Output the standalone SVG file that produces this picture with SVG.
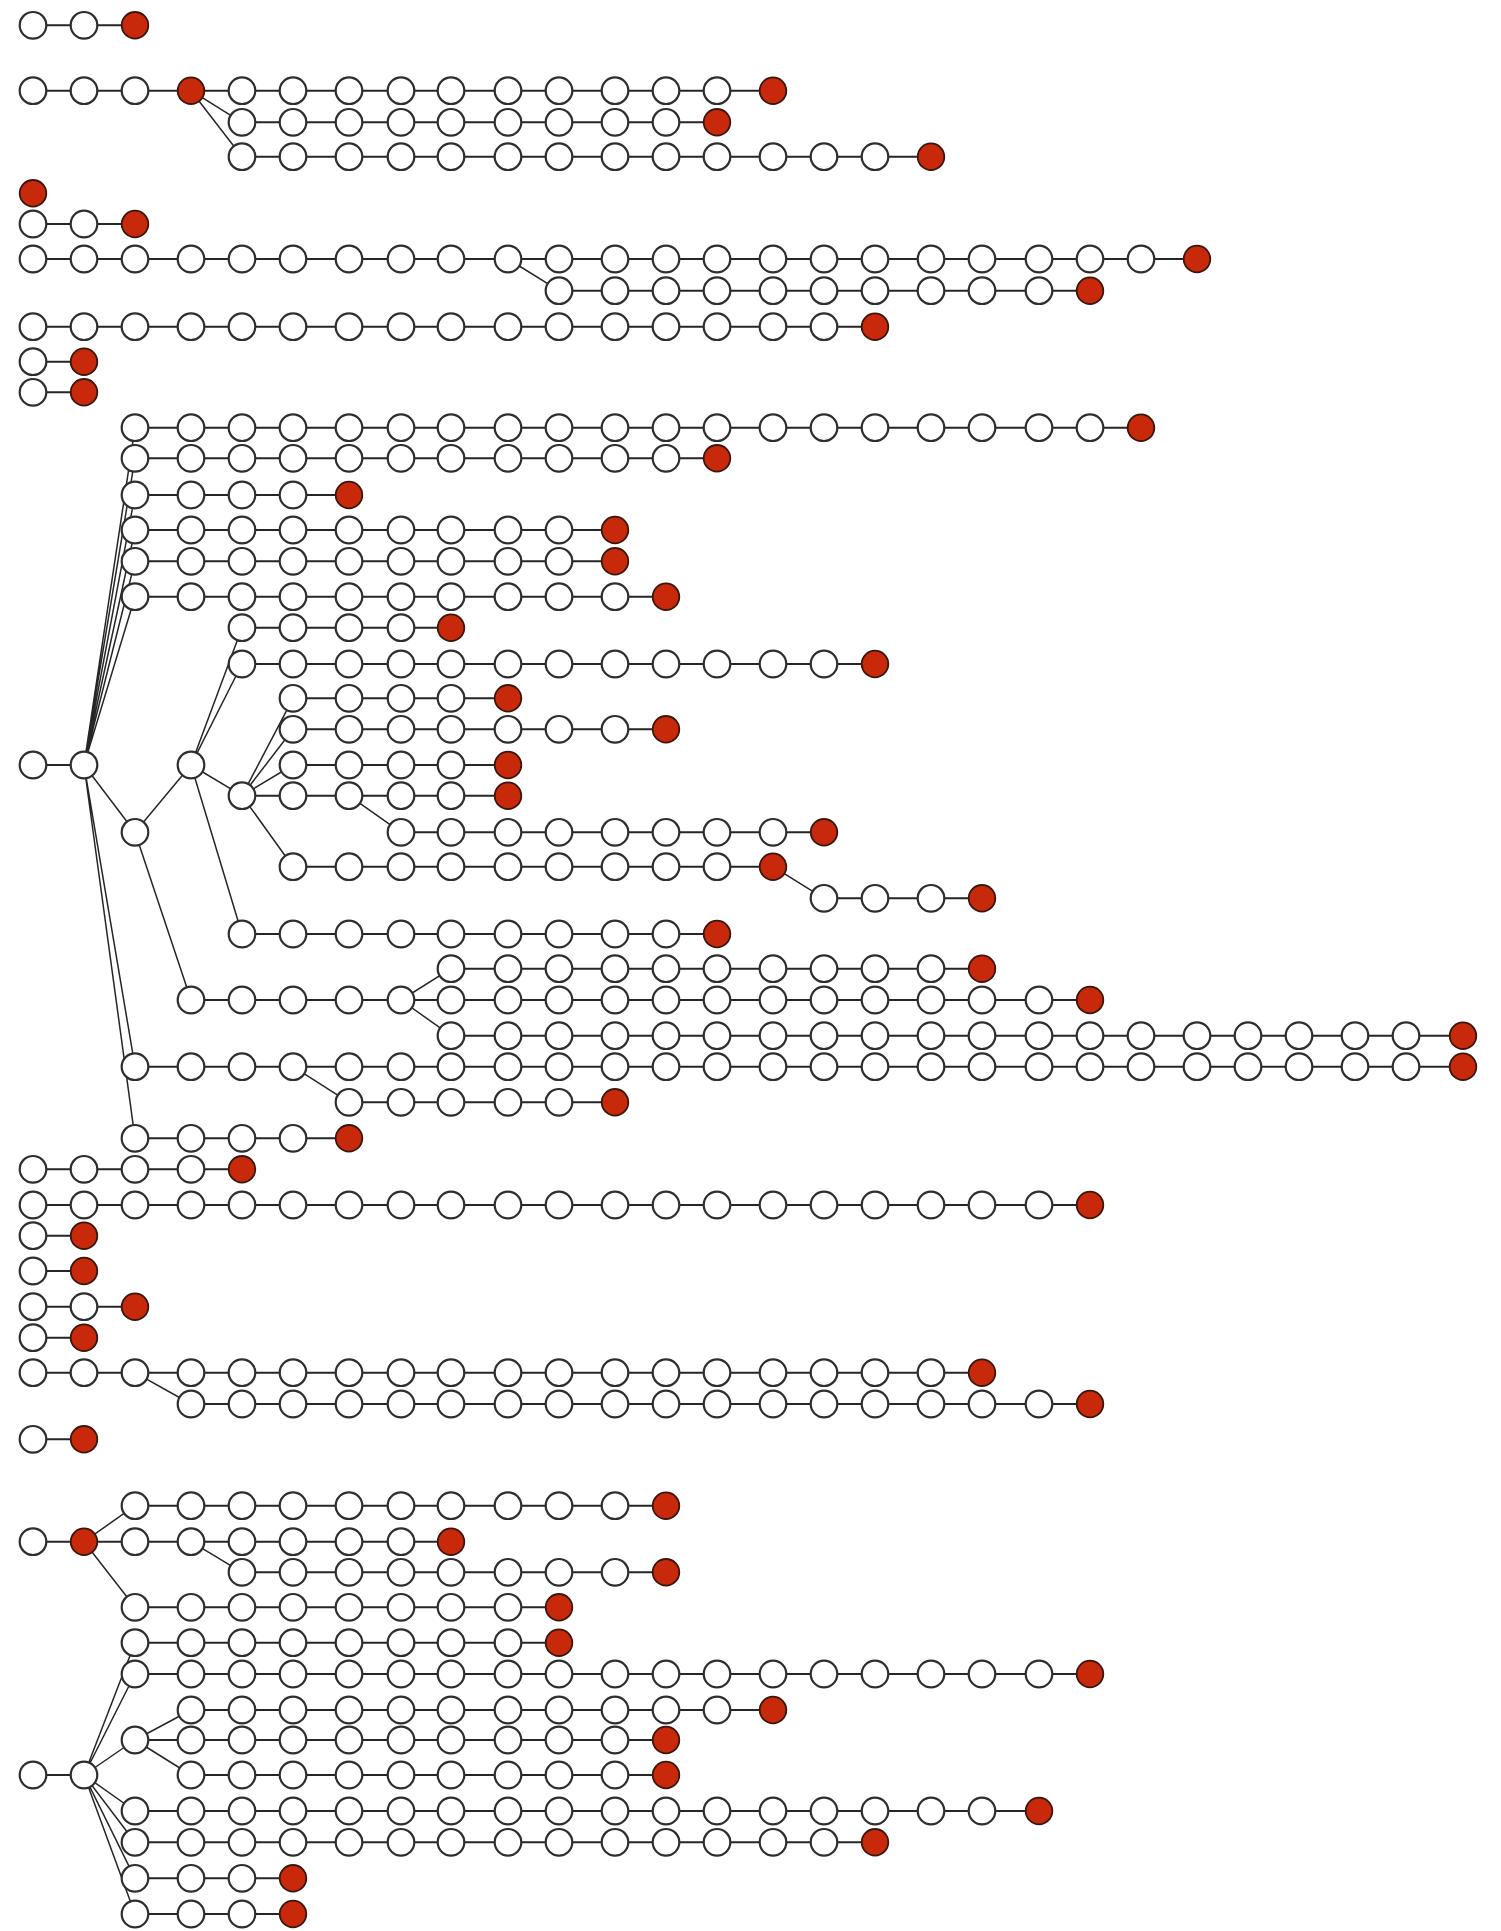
<svg xmlns="http://www.w3.org/2000/svg" width="1501" height="1931" viewBox="0 0 1501 1931">
<defs>
<circle id="w" r="13.3" fill="#ffffff" stroke="#2e2e2e" stroke-width="2.2"/>
<circle id="k" r="13.3" fill="#c8290b" stroke="#3a170d" stroke-width="1.8"/>
</defs>
<style>.e{fill:none;stroke:#262626;stroke-width:1.9}.d{fill:none;stroke:#262626;stroke-width:1.5}</style>
<rect width="1501" height="1931" fill="#ffffff"/>
<g id="edges">
<path class="e" d="M33 25.3H135M33 90.7H773M242 122.3H717M242 156.7H931M33 224H135M33 259H1197M559 290.7H1090M33 326.7H875M33 361.7H84M33 392.3H84M135 427.7H1141M135 458.3H717M135 495H349M135 530H615M135 561.3H615M135 596.7H666M242 627.7H451M242 664H875M293 698.3H508M293 729.3H666M33 765H84M293 765H508M242 795.7H508M401 832.3H824M293 866.7H773M824 898.3H982M242 934H717M451 968.7H982M191 1000H1090M451 1035.7H1463M135 1066.7H1463M349 1102.3H615M135 1138.3H349M33 1169.3H242M33 1205H1090M33 1235.7H84M33 1271H84M33 1306.7H135M33 1337.7H84M33 1372.7H982M191 1404H1090M33 1439.3H84M135 1505.7H666M33 1541.7H451M242 1572.3H666M135 1607.3H559M135 1642.7H559M135 1674H1090M191 1710H773M135 1740H666M33 1775H84M191 1775H666M135 1811H1039M135 1842.3H875M135 1878.3H293M135 1914H293"/>
<path class="d" d="M191 90.7L242 122.3M191 90.7L242 156.7M508 259L559 290.7M84 765L135 427.7M84 765L135 458.3M84 765L135 495M84 765L135 530M84 765L135 561.3M84 765L135 596.7M84 765L135 832.3M84 765L135 1066.7M84 765L135 1138.3M135 832.3L191 765M135 832.3L191 1000M191 765L242 627.7M191 765L242 664M191 765L242 795.7M191 765L242 934M242 795.7L293 698.3M242 795.7L293 729.3M242 795.7L293 765M242 795.7L293 866.7M349 795.7L401 832.3M773 866.7L824 898.3M401 1000L451 968.7M401 1000L451 1035.7M293 1066.7L349 1102.3M135 1372.7L191 1404M84 1541.7L135 1505.7M84 1541.7L135 1607.3M191 1541.7L242 1572.3M84 1775L135 1642.7M84 1775L135 1674M84 1775L135 1740M84 1775L135 1811M84 1775L135 1842.3M84 1775L135 1878.3M84 1775L135 1914M135 1740L191 1710M135 1740L191 1775"/>
</g>
<g id="nodes">
<g id="row1" transform="translate(0,25.3)">
<g id="n1-0"><use href="#w" x="33"/></g><g id="n1-1"><use href="#w" x="84"/></g><g id="n1-2"><use href="#k" x="135"/></g>
</g>
<g id="row2" transform="translate(0,90.7)">
<g id="n2-0"><use href="#w" x="33"/></g><g id="n2-1"><use href="#w" x="84"/></g><g id="n2-2"><use href="#w" x="135"/></g><g id="n2-3"><use href="#k" x="191"/></g><g id="n2-4"><use href="#w" x="242"/></g><g id="n2-5"><use href="#w" x="293"/></g><g id="n2-6"><use href="#w" x="349"/></g><g id="n2-7"><use href="#w" x="401"/></g><g id="n2-8"><use href="#w" x="451"/></g><g id="n2-9"><use href="#w" x="508"/></g><g id="n2-10"><use href="#w" x="559"/></g><g id="n2-11"><use href="#w" x="615"/></g><g id="n2-12"><use href="#w" x="666"/></g><g id="n2-13"><use href="#w" x="717"/></g><g id="n2-14"><use href="#k" x="773"/></g>
</g>
<g id="row3" transform="translate(0,122.3)">
<g id="n3-4"><use href="#w" x="242"/></g><g id="n3-5"><use href="#w" x="293"/></g><g id="n3-6"><use href="#w" x="349"/></g><g id="n3-7"><use href="#w" x="401"/></g><g id="n3-8"><use href="#w" x="451"/></g><g id="n3-9"><use href="#w" x="508"/></g><g id="n3-10"><use href="#w" x="559"/></g><g id="n3-11"><use href="#w" x="615"/></g><g id="n3-12"><use href="#w" x="666"/></g><g id="n3-13"><use href="#k" x="717"/></g>
</g>
<g id="row4" transform="translate(0,156.7)">
<g id="n4-4"><use href="#w" x="242"/></g><g id="n4-5"><use href="#w" x="293"/></g><g id="n4-6"><use href="#w" x="349"/></g><g id="n4-7"><use href="#w" x="401"/></g><g id="n4-8"><use href="#w" x="451"/></g><g id="n4-9"><use href="#w" x="508"/></g><g id="n4-10"><use href="#w" x="559"/></g><g id="n4-11"><use href="#w" x="615"/></g><g id="n4-12"><use href="#w" x="666"/></g><g id="n4-13"><use href="#w" x="717"/></g><g id="n4-14"><use href="#w" x="773"/></g><g id="n4-15"><use href="#w" x="824"/></g><g id="n4-16"><use href="#w" x="875"/></g><g id="n4-17"><use href="#k" x="931"/></g>
</g>
<g id="row5" transform="translate(0,193.3)">
<g id="n5-0"><use href="#k" x="33"/></g>
</g>
<g id="row6" transform="translate(0,224)">
<g id="n6-0"><use href="#w" x="33"/></g><g id="n6-1"><use href="#w" x="84"/></g><g id="n6-2"><use href="#k" x="135"/></g>
</g>
<g id="row7" transform="translate(0,259)">
<g id="n7-0"><use href="#w" x="33"/></g><g id="n7-1"><use href="#w" x="84"/></g><g id="n7-2"><use href="#w" x="135"/></g><g id="n7-3"><use href="#w" x="191"/></g><g id="n7-4"><use href="#w" x="242"/></g><g id="n7-5"><use href="#w" x="293"/></g><g id="n7-6"><use href="#w" x="349"/></g><g id="n7-7"><use href="#w" x="401"/></g><g id="n7-8"><use href="#w" x="451"/></g><g id="n7-9"><use href="#w" x="508"/></g><g id="n7-10"><use href="#w" x="559"/></g><g id="n7-11"><use href="#w" x="615"/></g><g id="n7-12"><use href="#w" x="666"/></g><g id="n7-13"><use href="#w" x="717"/></g><g id="n7-14"><use href="#w" x="773"/></g><g id="n7-15"><use href="#w" x="824"/></g><g id="n7-16"><use href="#w" x="875"/></g><g id="n7-17"><use href="#w" x="931"/></g><g id="n7-18"><use href="#w" x="982"/></g><g id="n7-19"><use href="#w" x="1039"/></g><g id="n7-20"><use href="#w" x="1090"/></g><g id="n7-21"><use href="#w" x="1141"/></g><g id="n7-22"><use href="#k" x="1197"/></g>
</g>
<g id="row8" transform="translate(0,290.7)">
<g id="n8-10"><use href="#w" x="559"/></g><g id="n8-11"><use href="#w" x="615"/></g><g id="n8-12"><use href="#w" x="666"/></g><g id="n8-13"><use href="#w" x="717"/></g><g id="n8-14"><use href="#w" x="773"/></g><g id="n8-15"><use href="#w" x="824"/></g><g id="n8-16"><use href="#w" x="875"/></g><g id="n8-17"><use href="#w" x="931"/></g><g id="n8-18"><use href="#w" x="982"/></g><g id="n8-19"><use href="#w" x="1039"/></g><g id="n8-20"><use href="#k" x="1090"/></g>
</g>
<g id="row9" transform="translate(0,326.7)">
<g id="n9-0"><use href="#w" x="33"/></g><g id="n9-1"><use href="#w" x="84"/></g><g id="n9-2"><use href="#w" x="135"/></g><g id="n9-3"><use href="#w" x="191"/></g><g id="n9-4"><use href="#w" x="242"/></g><g id="n9-5"><use href="#w" x="293"/></g><g id="n9-6"><use href="#w" x="349"/></g><g id="n9-7"><use href="#w" x="401"/></g><g id="n9-8"><use href="#w" x="451"/></g><g id="n9-9"><use href="#w" x="508"/></g><g id="n9-10"><use href="#w" x="559"/></g><g id="n9-11"><use href="#w" x="615"/></g><g id="n9-12"><use href="#w" x="666"/></g><g id="n9-13"><use href="#w" x="717"/></g><g id="n9-14"><use href="#w" x="773"/></g><g id="n9-15"><use href="#w" x="824"/></g><g id="n9-16"><use href="#k" x="875"/></g>
</g>
<g id="row10" transform="translate(0,361.7)">
<g id="n10-0"><use href="#w" x="33"/></g><g id="n10-1"><use href="#k" x="84"/></g>
</g>
<g id="row11" transform="translate(0,392.3)">
<g id="n11-0"><use href="#w" x="33"/></g><g id="n11-1"><use href="#k" x="84"/></g>
</g>
<g id="row12" transform="translate(0,427.7)">
<g id="n12-2"><use href="#w" x="135"/></g><g id="n12-3"><use href="#w" x="191"/></g><g id="n12-4"><use href="#w" x="242"/></g><g id="n12-5"><use href="#w" x="293"/></g><g id="n12-6"><use href="#w" x="349"/></g><g id="n12-7"><use href="#w" x="401"/></g><g id="n12-8"><use href="#w" x="451"/></g><g id="n12-9"><use href="#w" x="508"/></g><g id="n12-10"><use href="#w" x="559"/></g><g id="n12-11"><use href="#w" x="615"/></g><g id="n12-12"><use href="#w" x="666"/></g><g id="n12-13"><use href="#w" x="717"/></g><g id="n12-14"><use href="#w" x="773"/></g><g id="n12-15"><use href="#w" x="824"/></g><g id="n12-16"><use href="#w" x="875"/></g><g id="n12-17"><use href="#w" x="931"/></g><g id="n12-18"><use href="#w" x="982"/></g><g id="n12-19"><use href="#w" x="1039"/></g><g id="n12-20"><use href="#w" x="1090"/></g><g id="n12-21"><use href="#k" x="1141"/></g>
</g>
<g id="row13" transform="translate(0,458.3)">
<g id="n13-2"><use href="#w" x="135"/></g><g id="n13-3"><use href="#w" x="191"/></g><g id="n13-4"><use href="#w" x="242"/></g><g id="n13-5"><use href="#w" x="293"/></g><g id="n13-6"><use href="#w" x="349"/></g><g id="n13-7"><use href="#w" x="401"/></g><g id="n13-8"><use href="#w" x="451"/></g><g id="n13-9"><use href="#w" x="508"/></g><g id="n13-10"><use href="#w" x="559"/></g><g id="n13-11"><use href="#w" x="615"/></g><g id="n13-12"><use href="#w" x="666"/></g><g id="n13-13"><use href="#k" x="717"/></g>
</g>
<g id="row14" transform="translate(0,495)">
<g id="n14-2"><use href="#w" x="135"/></g><g id="n14-3"><use href="#w" x="191"/></g><g id="n14-4"><use href="#w" x="242"/></g><g id="n14-5"><use href="#w" x="293"/></g><g id="n14-6"><use href="#k" x="349"/></g>
</g>
<g id="row15" transform="translate(0,530)">
<g id="n15-2"><use href="#w" x="135"/></g><g id="n15-3"><use href="#w" x="191"/></g><g id="n15-4"><use href="#w" x="242"/></g><g id="n15-5"><use href="#w" x="293"/></g><g id="n15-6"><use href="#w" x="349"/></g><g id="n15-7"><use href="#w" x="401"/></g><g id="n15-8"><use href="#w" x="451"/></g><g id="n15-9"><use href="#w" x="508"/></g><g id="n15-10"><use href="#w" x="559"/></g><g id="n15-11"><use href="#k" x="615"/></g>
</g>
<g id="row16" transform="translate(0,561.3)">
<g id="n16-2"><use href="#w" x="135"/></g><g id="n16-3"><use href="#w" x="191"/></g><g id="n16-4"><use href="#w" x="242"/></g><g id="n16-5"><use href="#w" x="293"/></g><g id="n16-6"><use href="#w" x="349"/></g><g id="n16-7"><use href="#w" x="401"/></g><g id="n16-8"><use href="#w" x="451"/></g><g id="n16-9"><use href="#w" x="508"/></g><g id="n16-10"><use href="#w" x="559"/></g><g id="n16-11"><use href="#k" x="615"/></g>
</g>
<g id="row17" transform="translate(0,596.7)">
<g id="n17-2"><use href="#w" x="135"/></g><g id="n17-3"><use href="#w" x="191"/></g><g id="n17-4"><use href="#w" x="242"/></g><g id="n17-5"><use href="#w" x="293"/></g><g id="n17-6"><use href="#w" x="349"/></g><g id="n17-7"><use href="#w" x="401"/></g><g id="n17-8"><use href="#w" x="451"/></g><g id="n17-9"><use href="#w" x="508"/></g><g id="n17-10"><use href="#w" x="559"/></g><g id="n17-11"><use href="#w" x="615"/></g><g id="n17-12"><use href="#k" x="666"/></g>
</g>
<g id="row18" transform="translate(0,627.7)">
<g id="n18-4"><use href="#w" x="242"/></g><g id="n18-5"><use href="#w" x="293"/></g><g id="n18-6"><use href="#w" x="349"/></g><g id="n18-7"><use href="#w" x="401"/></g><g id="n18-8"><use href="#k" x="451"/></g>
</g>
<g id="row19" transform="translate(0,664)">
<g id="n19-4"><use href="#w" x="242"/></g><g id="n19-5"><use href="#w" x="293"/></g><g id="n19-6"><use href="#w" x="349"/></g><g id="n19-7"><use href="#w" x="401"/></g><g id="n19-8"><use href="#w" x="451"/></g><g id="n19-9"><use href="#w" x="508"/></g><g id="n19-10"><use href="#w" x="559"/></g><g id="n19-11"><use href="#w" x="615"/></g><g id="n19-12"><use href="#w" x="666"/></g><g id="n19-13"><use href="#w" x="717"/></g><g id="n19-14"><use href="#w" x="773"/></g><g id="n19-15"><use href="#w" x="824"/></g><g id="n19-16"><use href="#k" x="875"/></g>
</g>
<g id="row20" transform="translate(0,698.3)">
<g id="n20-5"><use href="#w" x="293"/></g><g id="n20-6"><use href="#w" x="349"/></g><g id="n20-7"><use href="#w" x="401"/></g><g id="n20-8"><use href="#w" x="451"/></g><g id="n20-9"><use href="#k" x="508"/></g>
</g>
<g id="row21" transform="translate(0,729.3)">
<g id="n21-5"><use href="#w" x="293"/></g><g id="n21-6"><use href="#w" x="349"/></g><g id="n21-7"><use href="#w" x="401"/></g><g id="n21-8"><use href="#w" x="451"/></g><g id="n21-9"><use href="#w" x="508"/></g><g id="n21-10"><use href="#w" x="559"/></g><g id="n21-11"><use href="#w" x="615"/></g><g id="n21-12"><use href="#k" x="666"/></g>
</g>
<g id="row22" transform="translate(0,765)">
<g id="n22-0"><use href="#w" x="33"/></g><g id="n22-1"><use href="#w" x="84"/></g><g id="n22-3"><use href="#w" x="191"/></g><g id="n22-5"><use href="#w" x="293"/></g><g id="n22-6"><use href="#w" x="349"/></g><g id="n22-7"><use href="#w" x="401"/></g><g id="n22-8"><use href="#w" x="451"/></g><g id="n22-9"><use href="#k" x="508"/></g>
</g>
<g id="row23" transform="translate(0,795.7)">
<g id="n23-4"><use href="#w" x="242"/></g><g id="n23-5"><use href="#w" x="293"/></g><g id="n23-6"><use href="#w" x="349"/></g><g id="n23-7"><use href="#w" x="401"/></g><g id="n23-8"><use href="#w" x="451"/></g><g id="n23-9"><use href="#k" x="508"/></g>
</g>
<g id="row24" transform="translate(0,832.3)">
<g id="n24-2"><use href="#w" x="135"/></g><g id="n24-7"><use href="#w" x="401"/></g><g id="n24-8"><use href="#w" x="451"/></g><g id="n24-9"><use href="#w" x="508"/></g><g id="n24-10"><use href="#w" x="559"/></g><g id="n24-11"><use href="#w" x="615"/></g><g id="n24-12"><use href="#w" x="666"/></g><g id="n24-13"><use href="#w" x="717"/></g><g id="n24-14"><use href="#w" x="773"/></g><g id="n24-15"><use href="#k" x="824"/></g>
</g>
<g id="row25" transform="translate(0,866.7)">
<g id="n25-5"><use href="#w" x="293"/></g><g id="n25-6"><use href="#w" x="349"/></g><g id="n25-7"><use href="#w" x="401"/></g><g id="n25-8"><use href="#w" x="451"/></g><g id="n25-9"><use href="#w" x="508"/></g><g id="n25-10"><use href="#w" x="559"/></g><g id="n25-11"><use href="#w" x="615"/></g><g id="n25-12"><use href="#w" x="666"/></g><g id="n25-13"><use href="#w" x="717"/></g><g id="n25-14"><use href="#k" x="773"/></g>
</g>
<g id="row26" transform="translate(0,898.3)">
<g id="n26-15"><use href="#w" x="824"/></g><g id="n26-16"><use href="#w" x="875"/></g><g id="n26-17"><use href="#w" x="931"/></g><g id="n26-18"><use href="#k" x="982"/></g>
</g>
<g id="row27" transform="translate(0,934)">
<g id="n27-4"><use href="#w" x="242"/></g><g id="n27-5"><use href="#w" x="293"/></g><g id="n27-6"><use href="#w" x="349"/></g><g id="n27-7"><use href="#w" x="401"/></g><g id="n27-8"><use href="#w" x="451"/></g><g id="n27-9"><use href="#w" x="508"/></g><g id="n27-10"><use href="#w" x="559"/></g><g id="n27-11"><use href="#w" x="615"/></g><g id="n27-12"><use href="#w" x="666"/></g><g id="n27-13"><use href="#k" x="717"/></g>
</g>
<g id="row28" transform="translate(0,968.7)">
<g id="n28-8"><use href="#w" x="451"/></g><g id="n28-9"><use href="#w" x="508"/></g><g id="n28-10"><use href="#w" x="559"/></g><g id="n28-11"><use href="#w" x="615"/></g><g id="n28-12"><use href="#w" x="666"/></g><g id="n28-13"><use href="#w" x="717"/></g><g id="n28-14"><use href="#w" x="773"/></g><g id="n28-15"><use href="#w" x="824"/></g><g id="n28-16"><use href="#w" x="875"/></g><g id="n28-17"><use href="#w" x="931"/></g><g id="n28-18"><use href="#k" x="982"/></g>
</g>
<g id="row29" transform="translate(0,1000)">
<g id="n29-3"><use href="#w" x="191"/></g><g id="n29-4"><use href="#w" x="242"/></g><g id="n29-5"><use href="#w" x="293"/></g><g id="n29-6"><use href="#w" x="349"/></g><g id="n29-7"><use href="#w" x="401"/></g><g id="n29-8"><use href="#w" x="451"/></g><g id="n29-9"><use href="#w" x="508"/></g><g id="n29-10"><use href="#w" x="559"/></g><g id="n29-11"><use href="#w" x="615"/></g><g id="n29-12"><use href="#w" x="666"/></g><g id="n29-13"><use href="#w" x="717"/></g><g id="n29-14"><use href="#w" x="773"/></g><g id="n29-15"><use href="#w" x="824"/></g><g id="n29-16"><use href="#w" x="875"/></g><g id="n29-17"><use href="#w" x="931"/></g><g id="n29-18"><use href="#w" x="982"/></g><g id="n29-19"><use href="#w" x="1039"/></g><g id="n29-20"><use href="#k" x="1090"/></g>
</g>
<g id="row30" transform="translate(0,1035.7)">
<g id="n30-8"><use href="#w" x="451"/></g><g id="n30-9"><use href="#w" x="508"/></g><g id="n30-10"><use href="#w" x="559"/></g><g id="n30-11"><use href="#w" x="615"/></g><g id="n30-12"><use href="#w" x="666"/></g><g id="n30-13"><use href="#w" x="717"/></g><g id="n30-14"><use href="#w" x="773"/></g><g id="n30-15"><use href="#w" x="824"/></g><g id="n30-16"><use href="#w" x="875"/></g><g id="n30-17"><use href="#w" x="931"/></g><g id="n30-18"><use href="#w" x="982"/></g><g id="n30-19"><use href="#w" x="1039"/></g><g id="n30-20"><use href="#w" x="1090"/></g><g id="n30-21"><use href="#w" x="1141"/></g><g id="n30-22"><use href="#w" x="1197"/></g><g id="n30-23"><use href="#w" x="1248"/></g><g id="n30-24"><use href="#w" x="1299"/></g><g id="n30-25"><use href="#w" x="1355"/></g><g id="n30-26"><use href="#w" x="1406"/></g><g id="n30-27"><use href="#k" x="1463"/></g>
</g>
<g id="row31" transform="translate(0,1066.7)">
<g id="n31-2"><use href="#w" x="135"/></g><g id="n31-3"><use href="#w" x="191"/></g><g id="n31-4"><use href="#w" x="242"/></g><g id="n31-5"><use href="#w" x="293"/></g><g id="n31-6"><use href="#w" x="349"/></g><g id="n31-7"><use href="#w" x="401"/></g><g id="n31-8"><use href="#w" x="451"/></g><g id="n31-9"><use href="#w" x="508"/></g><g id="n31-10"><use href="#w" x="559"/></g><g id="n31-11"><use href="#w" x="615"/></g><g id="n31-12"><use href="#w" x="666"/></g><g id="n31-13"><use href="#w" x="717"/></g><g id="n31-14"><use href="#w" x="773"/></g><g id="n31-15"><use href="#w" x="824"/></g><g id="n31-16"><use href="#w" x="875"/></g><g id="n31-17"><use href="#w" x="931"/></g><g id="n31-18"><use href="#w" x="982"/></g><g id="n31-19"><use href="#w" x="1039"/></g><g id="n31-20"><use href="#w" x="1090"/></g><g id="n31-21"><use href="#w" x="1141"/></g><g id="n31-22"><use href="#w" x="1197"/></g><g id="n31-23"><use href="#w" x="1248"/></g><g id="n31-24"><use href="#w" x="1299"/></g><g id="n31-25"><use href="#w" x="1355"/></g><g id="n31-26"><use href="#w" x="1406"/></g><g id="n31-27"><use href="#k" x="1463"/></g>
</g>
<g id="row32" transform="translate(0,1102.3)">
<g id="n32-6"><use href="#w" x="349"/></g><g id="n32-7"><use href="#w" x="401"/></g><g id="n32-8"><use href="#w" x="451"/></g><g id="n32-9"><use href="#w" x="508"/></g><g id="n32-10"><use href="#w" x="559"/></g><g id="n32-11"><use href="#k" x="615"/></g>
</g>
<g id="row33" transform="translate(0,1138.3)">
<g id="n33-2"><use href="#w" x="135"/></g><g id="n33-3"><use href="#w" x="191"/></g><g id="n33-4"><use href="#w" x="242"/></g><g id="n33-5"><use href="#w" x="293"/></g><g id="n33-6"><use href="#k" x="349"/></g>
</g>
<g id="row34" transform="translate(0,1169.3)">
<g id="n34-0"><use href="#w" x="33"/></g><g id="n34-1"><use href="#w" x="84"/></g><g id="n34-2"><use href="#w" x="135"/></g><g id="n34-3"><use href="#w" x="191"/></g><g id="n34-4"><use href="#k" x="242"/></g>
</g>
<g id="row35" transform="translate(0,1205)">
<g id="n35-0"><use href="#w" x="33"/></g><g id="n35-1"><use href="#w" x="84"/></g><g id="n35-2"><use href="#w" x="135"/></g><g id="n35-3"><use href="#w" x="191"/></g><g id="n35-4"><use href="#w" x="242"/></g><g id="n35-5"><use href="#w" x="293"/></g><g id="n35-6"><use href="#w" x="349"/></g><g id="n35-7"><use href="#w" x="401"/></g><g id="n35-8"><use href="#w" x="451"/></g><g id="n35-9"><use href="#w" x="508"/></g><g id="n35-10"><use href="#w" x="559"/></g><g id="n35-11"><use href="#w" x="615"/></g><g id="n35-12"><use href="#w" x="666"/></g><g id="n35-13"><use href="#w" x="717"/></g><g id="n35-14"><use href="#w" x="773"/></g><g id="n35-15"><use href="#w" x="824"/></g><g id="n35-16"><use href="#w" x="875"/></g><g id="n35-17"><use href="#w" x="931"/></g><g id="n35-18"><use href="#w" x="982"/></g><g id="n35-19"><use href="#w" x="1039"/></g><g id="n35-20"><use href="#k" x="1090"/></g>
</g>
<g id="row36" transform="translate(0,1235.7)">
<g id="n36-0"><use href="#w" x="33"/></g><g id="n36-1"><use href="#k" x="84"/></g>
</g>
<g id="row37" transform="translate(0,1271)">
<g id="n37-0"><use href="#w" x="33"/></g><g id="n37-1"><use href="#k" x="84"/></g>
</g>
<g id="row38" transform="translate(0,1306.7)">
<g id="n38-0"><use href="#w" x="33"/></g><g id="n38-1"><use href="#w" x="84"/></g><g id="n38-2"><use href="#k" x="135"/></g>
</g>
<g id="row39" transform="translate(0,1337.7)">
<g id="n39-0"><use href="#w" x="33"/></g><g id="n39-1"><use href="#k" x="84"/></g>
</g>
<g id="row40" transform="translate(0,1372.7)">
<g id="n40-0"><use href="#w" x="33"/></g><g id="n40-1"><use href="#w" x="84"/></g><g id="n40-2"><use href="#w" x="135"/></g><g id="n40-3"><use href="#w" x="191"/></g><g id="n40-4"><use href="#w" x="242"/></g><g id="n40-5"><use href="#w" x="293"/></g><g id="n40-6"><use href="#w" x="349"/></g><g id="n40-7"><use href="#w" x="401"/></g><g id="n40-8"><use href="#w" x="451"/></g><g id="n40-9"><use href="#w" x="508"/></g><g id="n40-10"><use href="#w" x="559"/></g><g id="n40-11"><use href="#w" x="615"/></g><g id="n40-12"><use href="#w" x="666"/></g><g id="n40-13"><use href="#w" x="717"/></g><g id="n40-14"><use href="#w" x="773"/></g><g id="n40-15"><use href="#w" x="824"/></g><g id="n40-16"><use href="#w" x="875"/></g><g id="n40-17"><use href="#w" x="931"/></g><g id="n40-18"><use href="#k" x="982"/></g>
</g>
<g id="row41" transform="translate(0,1404)">
<g id="n41-3"><use href="#w" x="191"/></g><g id="n41-4"><use href="#w" x="242"/></g><g id="n41-5"><use href="#w" x="293"/></g><g id="n41-6"><use href="#w" x="349"/></g><g id="n41-7"><use href="#w" x="401"/></g><g id="n41-8"><use href="#w" x="451"/></g><g id="n41-9"><use href="#w" x="508"/></g><g id="n41-10"><use href="#w" x="559"/></g><g id="n41-11"><use href="#w" x="615"/></g><g id="n41-12"><use href="#w" x="666"/></g><g id="n41-13"><use href="#w" x="717"/></g><g id="n41-14"><use href="#w" x="773"/></g><g id="n41-15"><use href="#w" x="824"/></g><g id="n41-16"><use href="#w" x="875"/></g><g id="n41-17"><use href="#w" x="931"/></g><g id="n41-18"><use href="#w" x="982"/></g><g id="n41-19"><use href="#w" x="1039"/></g><g id="n41-20"><use href="#k" x="1090"/></g>
</g>
<g id="row42" transform="translate(0,1439.3)">
<g id="n42-0"><use href="#w" x="33"/></g><g id="n42-1"><use href="#k" x="84"/></g>
</g>
<g id="row43" transform="translate(0,1505.7)">
<g id="n43-2"><use href="#w" x="135"/></g><g id="n43-3"><use href="#w" x="191"/></g><g id="n43-4"><use href="#w" x="242"/></g><g id="n43-5"><use href="#w" x="293"/></g><g id="n43-6"><use href="#w" x="349"/></g><g id="n43-7"><use href="#w" x="401"/></g><g id="n43-8"><use href="#w" x="451"/></g><g id="n43-9"><use href="#w" x="508"/></g><g id="n43-10"><use href="#w" x="559"/></g><g id="n43-11"><use href="#w" x="615"/></g><g id="n43-12"><use href="#k" x="666"/></g>
</g>
<g id="row44" transform="translate(0,1541.7)">
<g id="n44-0"><use href="#w" x="33"/></g><g id="n44-1"><use href="#k" x="84"/></g><g id="n44-2"><use href="#w" x="135"/></g><g id="n44-3"><use href="#w" x="191"/></g><g id="n44-4"><use href="#w" x="242"/></g><g id="n44-5"><use href="#w" x="293"/></g><g id="n44-6"><use href="#w" x="349"/></g><g id="n44-7"><use href="#w" x="401"/></g><g id="n44-8"><use href="#k" x="451"/></g>
</g>
<g id="row45" transform="translate(0,1572.3)">
<g id="n45-4"><use href="#w" x="242"/></g><g id="n45-5"><use href="#w" x="293"/></g><g id="n45-6"><use href="#w" x="349"/></g><g id="n45-7"><use href="#w" x="401"/></g><g id="n45-8"><use href="#w" x="451"/></g><g id="n45-9"><use href="#w" x="508"/></g><g id="n45-10"><use href="#w" x="559"/></g><g id="n45-11"><use href="#w" x="615"/></g><g id="n45-12"><use href="#k" x="666"/></g>
</g>
<g id="row46" transform="translate(0,1607.3)">
<g id="n46-2"><use href="#w" x="135"/></g><g id="n46-3"><use href="#w" x="191"/></g><g id="n46-4"><use href="#w" x="242"/></g><g id="n46-5"><use href="#w" x="293"/></g><g id="n46-6"><use href="#w" x="349"/></g><g id="n46-7"><use href="#w" x="401"/></g><g id="n46-8"><use href="#w" x="451"/></g><g id="n46-9"><use href="#w" x="508"/></g><g id="n46-10"><use href="#k" x="559"/></g>
</g>
<g id="row47" transform="translate(0,1642.7)">
<g id="n47-2"><use href="#w" x="135"/></g><g id="n47-3"><use href="#w" x="191"/></g><g id="n47-4"><use href="#w" x="242"/></g><g id="n47-5"><use href="#w" x="293"/></g><g id="n47-6"><use href="#w" x="349"/></g><g id="n47-7"><use href="#w" x="401"/></g><g id="n47-8"><use href="#w" x="451"/></g><g id="n47-9"><use href="#w" x="508"/></g><g id="n47-10"><use href="#k" x="559"/></g>
</g>
<g id="row48" transform="translate(0,1674)">
<g id="n48-2"><use href="#w" x="135"/></g><g id="n48-3"><use href="#w" x="191"/></g><g id="n48-4"><use href="#w" x="242"/></g><g id="n48-5"><use href="#w" x="293"/></g><g id="n48-6"><use href="#w" x="349"/></g><g id="n48-7"><use href="#w" x="401"/></g><g id="n48-8"><use href="#w" x="451"/></g><g id="n48-9"><use href="#w" x="508"/></g><g id="n48-10"><use href="#w" x="559"/></g><g id="n48-11"><use href="#w" x="615"/></g><g id="n48-12"><use href="#w" x="666"/></g><g id="n48-13"><use href="#w" x="717"/></g><g id="n48-14"><use href="#w" x="773"/></g><g id="n48-15"><use href="#w" x="824"/></g><g id="n48-16"><use href="#w" x="875"/></g><g id="n48-17"><use href="#w" x="931"/></g><g id="n48-18"><use href="#w" x="982"/></g><g id="n48-19"><use href="#w" x="1039"/></g><g id="n48-20"><use href="#k" x="1090"/></g>
</g>
<g id="row49" transform="translate(0,1710)">
<g id="n49-3"><use href="#w" x="191"/></g><g id="n49-4"><use href="#w" x="242"/></g><g id="n49-5"><use href="#w" x="293"/></g><g id="n49-6"><use href="#w" x="349"/></g><g id="n49-7"><use href="#w" x="401"/></g><g id="n49-8"><use href="#w" x="451"/></g><g id="n49-9"><use href="#w" x="508"/></g><g id="n49-10"><use href="#w" x="559"/></g><g id="n49-11"><use href="#w" x="615"/></g><g id="n49-12"><use href="#w" x="666"/></g><g id="n49-13"><use href="#w" x="717"/></g><g id="n49-14"><use href="#k" x="773"/></g>
</g>
<g id="row50" transform="translate(0,1740)">
<g id="n50-2"><use href="#w" x="135"/></g><g id="n50-3"><use href="#w" x="191"/></g><g id="n50-4"><use href="#w" x="242"/></g><g id="n50-5"><use href="#w" x="293"/></g><g id="n50-6"><use href="#w" x="349"/></g><g id="n50-7"><use href="#w" x="401"/></g><g id="n50-8"><use href="#w" x="451"/></g><g id="n50-9"><use href="#w" x="508"/></g><g id="n50-10"><use href="#w" x="559"/></g><g id="n50-11"><use href="#w" x="615"/></g><g id="n50-12"><use href="#k" x="666"/></g>
</g>
<g id="row51" transform="translate(0,1775)">
<g id="n51-0"><use href="#w" x="33"/></g><g id="n51-1"><use href="#w" x="84"/></g><g id="n51-3"><use href="#w" x="191"/></g><g id="n51-4"><use href="#w" x="242"/></g><g id="n51-5"><use href="#w" x="293"/></g><g id="n51-6"><use href="#w" x="349"/></g><g id="n51-7"><use href="#w" x="401"/></g><g id="n51-8"><use href="#w" x="451"/></g><g id="n51-9"><use href="#w" x="508"/></g><g id="n51-10"><use href="#w" x="559"/></g><g id="n51-11"><use href="#w" x="615"/></g><g id="n51-12"><use href="#k" x="666"/></g>
</g>
<g id="row52" transform="translate(0,1811)">
<g id="n52-2"><use href="#w" x="135"/></g><g id="n52-3"><use href="#w" x="191"/></g><g id="n52-4"><use href="#w" x="242"/></g><g id="n52-5"><use href="#w" x="293"/></g><g id="n52-6"><use href="#w" x="349"/></g><g id="n52-7"><use href="#w" x="401"/></g><g id="n52-8"><use href="#w" x="451"/></g><g id="n52-9"><use href="#w" x="508"/></g><g id="n52-10"><use href="#w" x="559"/></g><g id="n52-11"><use href="#w" x="615"/></g><g id="n52-12"><use href="#w" x="666"/></g><g id="n52-13"><use href="#w" x="717"/></g><g id="n52-14"><use href="#w" x="773"/></g><g id="n52-15"><use href="#w" x="824"/></g><g id="n52-16"><use href="#w" x="875"/></g><g id="n52-17"><use href="#w" x="931"/></g><g id="n52-18"><use href="#w" x="982"/></g><g id="n52-19"><use href="#k" x="1039"/></g>
</g>
<g id="row53" transform="translate(0,1842.3)">
<g id="n53-2"><use href="#w" x="135"/></g><g id="n53-3"><use href="#w" x="191"/></g><g id="n53-4"><use href="#w" x="242"/></g><g id="n53-5"><use href="#w" x="293"/></g><g id="n53-6"><use href="#w" x="349"/></g><g id="n53-7"><use href="#w" x="401"/></g><g id="n53-8"><use href="#w" x="451"/></g><g id="n53-9"><use href="#w" x="508"/></g><g id="n53-10"><use href="#w" x="559"/></g><g id="n53-11"><use href="#w" x="615"/></g><g id="n53-12"><use href="#w" x="666"/></g><g id="n53-13"><use href="#w" x="717"/></g><g id="n53-14"><use href="#w" x="773"/></g><g id="n53-15"><use href="#w" x="824"/></g><g id="n53-16"><use href="#k" x="875"/></g>
</g>
<g id="row54" transform="translate(0,1878.3)">
<g id="n54-2"><use href="#w" x="135"/></g><g id="n54-3"><use href="#w" x="191"/></g><g id="n54-4"><use href="#w" x="242"/></g><g id="n54-5"><use href="#k" x="293"/></g>
</g>
<g id="row55" transform="translate(0,1914)">
<g id="n55-2"><use href="#w" x="135"/></g><g id="n55-3"><use href="#w" x="191"/></g><g id="n55-4"><use href="#w" x="242"/></g><g id="n55-5"><use href="#k" x="293"/></g>
</g>
</g>
</svg>
